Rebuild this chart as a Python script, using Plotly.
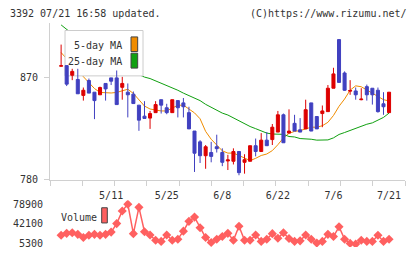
import plotly.graph_objects as go

# ---------------- data ----------------
tick_idx = [9, 19, 29, 39, 49, 59]
tick_labels = ["5/11", "5/25", "6/8", "6/22", "7/6", "7/21"]

opens = [880.0, 880.5, 872.0, 868.3, 854.3, 867.4, 857.1, 854.8, 864.8, 869.7,
         869.7, 861.4, 857.1, 855.4, 845.7, 836.0, 834.3, 839.1, 850.5, 843.4,
         839.1, 849.7, 847.7, 839.1, 822.9, 813.4, 801.2, 804.0, 809.1, 804.0,
         796.6, 796.3, 804.9, 795.4, 796.3, 810.0, 804.9, 814.9, 815.4, 822.0,
         837.2, 821.1, 829.7, 824.0, 824.8, 847.7, 835.7, 838.3, 840.0, 860.6,
         903.4, 874.0, 858.0, 858.2, 850.5, 862.0, 860.6, 858.8, 846.9, 839.1]
highs = [899.0, 880.5, 877.7, 877.7, 861.2, 869.1, 857.1, 862.0, 864.8, 869.7,
         876.2, 870.6, 864.8, 857.7, 845.7, 849.2, 840.6, 849.2, 850.5, 846.9,
         850.5, 849.7, 852.0, 844.3, 822.9, 814.9, 810.6, 813.4, 819.7, 807.7,
         802.0, 807.7, 804.9, 802.5, 810.0, 816.3, 821.1, 822.0, 829.1, 840.6,
         838.3, 842.0, 837.2, 834.3, 850.5, 847.7, 835.7, 845.4, 863.4, 878.6,
         903.4, 875.4, 867.7, 861.2, 860.6, 863.8, 860.6, 861.2, 857.1, 857.1]
lows = [879.8, 862.5, 867.7, 855.7, 849.7, 856.3, 833.4, 854.8, 849.7, 863.4,
        846.2, 850.5, 834.9, 847.1, 823.1, 834.0, 824.8, 839.1, 838.3, 837.7,
        839.1, 834.9, 834.9, 824.8, 786.9, 794.8, 789.7, 795.4, 804.0, 792.0,
        788.6, 793.5, 784.0, 785.4, 796.3, 800.6, 804.9, 810.0, 810.6, 822.0,
        812.6, 821.1, 822.9, 822.0, 824.8, 822.9, 824.8, 826.3, 840.0, 860.6,
        865.7, 858.3, 854.8, 850.5, 850.0, 849.7, 846.2, 839.1, 837.2, 839.1]
closes = [880.4, 864.2, 875.4, 855.7, 858.8, 856.3, 849.7, 861.2, 860.0, 866.8,
          846.2, 864.8, 854.8, 847.1, 832.5, 834.0, 838.3, 846.2, 845.7, 839.1,
          850.5, 843.4, 844.3, 824.8, 803.4, 801.2, 809.1, 800.6, 807.4, 795.4,
          797.5, 804.9, 786.3, 797.7, 810.0, 804.9, 814.9, 810.0, 826.3, 837.2,
          812.6, 822.9, 822.9, 822.0, 841.7, 822.9, 824.8, 840.6, 860.6, 873.2,
          865.7, 858.8, 858.6, 854.8, 851.0, 854.8, 854.8, 840.0, 844.3, 857.1]

ma5 = [892.0, 886.0, 881.0, 876.0, 870.6, 865.4, 860.3, 856.9, 856.4, 856.4,
       856.9, 858.6, 859.7, 856.0, 850.0, 844.9, 842.3, 841.2, 840.6, 840.6,
       843.4, 845.6, 845.7, 842.3, 838.9, 833.7, 822.6, 815.7, 810.6, 805.5,
       803.5, 803.5, 801.4, 798.9, 796.9, 798.9, 801.4, 802.7, 805.7, 810.9,
       816.9, 820.9, 822.6, 823.3, 825.0, 826.3, 826.3, 827.6, 830.6, 836.6,
       844.7, 851.1, 858.9, 862.7, 861.9, 859.1, 856.3, 853.3, 850.5, 849.4]

ma25 = [916.3, 912.0, 908.5, 905.0, 901.5, 898.5, 895.5, 892.5, 889.5, 886.5,
        883.5, 880.5, 878.0, 875.0, 872.6, 870.4, 869.1, 867.0, 864.9, 863.4,
        861.4, 858.8, 856.3, 854.1, 852.0, 849.7, 846.4, 843.9, 840.9, 838.7,
        837.0, 834.4, 831.4, 828.9, 826.9, 825.0, 822.9, 821.1, 820.3, 820.0,
        820.0, 818.1, 817.7, 816.3, 816.3, 815.7, 814.9, 814.9, 815.1, 816.9,
        819.9, 821.6, 823.5, 825.4, 827.1, 828.9, 830.1, 832.5, 834.9, 838.7]

volume = [20500, 24100, 25400, 22300, 16300, 20500, 22300, 20500, 22300, 26500,
          42400, 66100, 78900, 23600, 72900, 27200, 21000, 11300, 9000, 21000,
          11300, 13200, 28300, 46600, 54600, 34500, 16300, 7100, 13200, 18100,
          24100, 11300, 37500, 11300, 11300, 21000, 9000, 13200, 23600, 15000,
          25400, 14400, 9000, 10100, 21000, 13200, 5900, 9000, 22300, 18100,
          36400, 13200, 5300, 4000, 11300, 9000, 9000, 20500, 9000, 13200]

price_ticks = [780, 870]
vol_ticks = [5300, 42100, 78900]
vol_tick_labels = ["5300", "42100", "78900"]

x = list(range(len(closes)))

# ---------------- styles ----------------
FONT = "DejaVu Sans Mono"
TXT = "#333333"
AXC = "#d0d0d0"
UP = "#dd0000"
DOWN = "#4040c0"
ORANGE = "#f08c00"
GREEN = "#10a010"
VOLC = "#ff6060"

XR = [-2, 61.87]
YR = [780, 918]

fig = go.Figure()

# moving averages (main subplot, drawn lowest)
fig.add_trace(go.Scatter(x=x, y=ma5, mode="lines", line=dict(color=ORANGE, width=1),
                         xaxis="x", yaxis="y", hoverinfo="skip"))
fig.add_trace(go.Scatter(x=x, y=ma25, mode="lines", line=dict(color=GREEN, width=1),
                         xaxis="x", yaxis="y", hoverinfo="skip"))

# volume
fig.add_trace(go.Scatter(x=x, y=volume, mode="lines+markers",
                         line=dict(color=VOLC, width=1.5),
                         marker=dict(symbol="diamond", size=7, color=VOLC),
                         xaxis="x2", yaxis="y2", hoverinfo="skip"))

# legend box (fraction-of-plot axes, above MA lines, below candles)
fig.add_trace(go.Scatter(x=[0.0423, 0.262, 0.262, 0.0423, 0.0423],
                         y=[0.6627, 0.6627, 0.9522, 0.9522, 0.6627],
                         mode="lines", fill="toself", fillcolor="white",
                         line=dict(color="#cccccc", width=1),
                         xaxis="x3", yaxis="y3", hoverinfo="skip"))

# candles
fig.add_trace(go.Candlestick(x=x, open=opens, high=highs, low=lows, close=closes,
                             increasing=dict(line=dict(color=UP, width=1), fillcolor=UP),
                             decreasing=dict(line=dict(color=DOWN, width=1), fillcolor=DOWN),
                             whiskerwidth=0, xaxis="x4", yaxis="y4", hoverinfo="skip"))

main_dom = [0.30, 1.0]
vol_dom = [0.0, 0.2087]
minor_vals = [XR[0] + k * (XR[1] - XR[0]) / 11 for k in range(12)]

fig.update_layout(
    width=420, height=259, autosize=False,
    margin=dict(l=50, r=15, t=23, b=6),
    paper_bgcolor="white", plot_bgcolor="rgba(0,0,0,0)",
    showlegend=False, boxgap=0.22,
    font=dict(family=FONT, size=10, color=TXT),
    xaxis=dict(domain=[0, 1], range=XR, anchor="y", showgrid=False, zeroline=False,
               showline=True, linecolor=AXC, linewidth=1,
               tickmode="array", tickvals=tick_idx, ticktext=tick_labels,
               ticks="outside", ticklen=6, tickcolor="rgba(0,0,0,0)",
               tickfont=dict(family=FONT, size=10, color=TXT),
               minor=dict(tickmode="array", tickvals=minor_vals, ticks="outside",
                          ticklen=5, tickcolor=AXC, showgrid=False),
               fixedrange=True),
    yaxis=dict(domain=main_dom, range=YR, anchor="x", showgrid=False, zeroline=False,
               showline=True, linecolor=AXC, linewidth=1,
               tickmode="array", tickvals=price_ticks,
               ticks="outside", ticklen=5, tickcolor=AXC, ticklabelstandoff=4,
               tickfont=dict(family=FONT, size=10, color=TXT), fixedrange=True),
    xaxis2=dict(domain=[0, 1], range=XR, anchor="y2", visible=False, fixedrange=True),
    yaxis2=dict(domain=vol_dom, range=[-1456, 86204], anchor="x2", showgrid=False,
                zeroline=False, showline=False, tickmode="array", tickvals=vol_ticks,
                ticktext=vol_tick_labels, ticks="", ticklabelstandoff=6,
                tickfont=dict(family=FONT, size=10, color=TXT), fixedrange=True),
    xaxis3=dict(overlaying="x", range=[0, 1], anchor="y3", visible=False, fixedrange=True),
    yaxis3=dict(overlaying="y", range=[0, 1], anchor="x3", visible=False, fixedrange=True),
    xaxis4=dict(overlaying="x", range=XR, anchor="y4", visible=False,
                rangeslider=dict(visible=False), fixedrange=True),
    yaxis4=dict(overlaying="y", range=YR, anchor="x4", visible=False, fixedrange=True),
)

def ann(text, xp, yp, xa):
    fig.add_annotation(text=text, x=xp, y=yp, xref="paper", yref="paper",
                       xanchor=xa, yanchor="middle", showarrow=False,
                       font=dict(family=FONT, size=10, color=TXT))

ann("3392 07/21 16:58 updated.", -0.1183, 1.0435, "left")
ann("(C)https://www.rizumu.net/", 1.0113, 1.0435, "right")
ann("5-day MA", 0.2085, 0.9013, "right")
ann("25-day MA", 0.2085, 0.8261, "right")
ann("Volume", 0.0254, 0.1326, "left")

def swatch(x0, x1, y0, y1, color):
    fig.add_shape(type="rect", xref="paper", yref="paper", x0=x0, x1=x1, y0=y0, y1=y1,
                  fillcolor=color, line=dict(color="#444444", width=1), layer="above")

swatch(0.2282, 0.2470, 0.8726, 0.9378, ORANGE)
swatch(0.2282, 0.2470, 0.7987, 0.8652, GREEN)
swatch(0.1456, 0.1614, 0.1074, 0.1752, VOLC)

fig.write_html("out.html")
